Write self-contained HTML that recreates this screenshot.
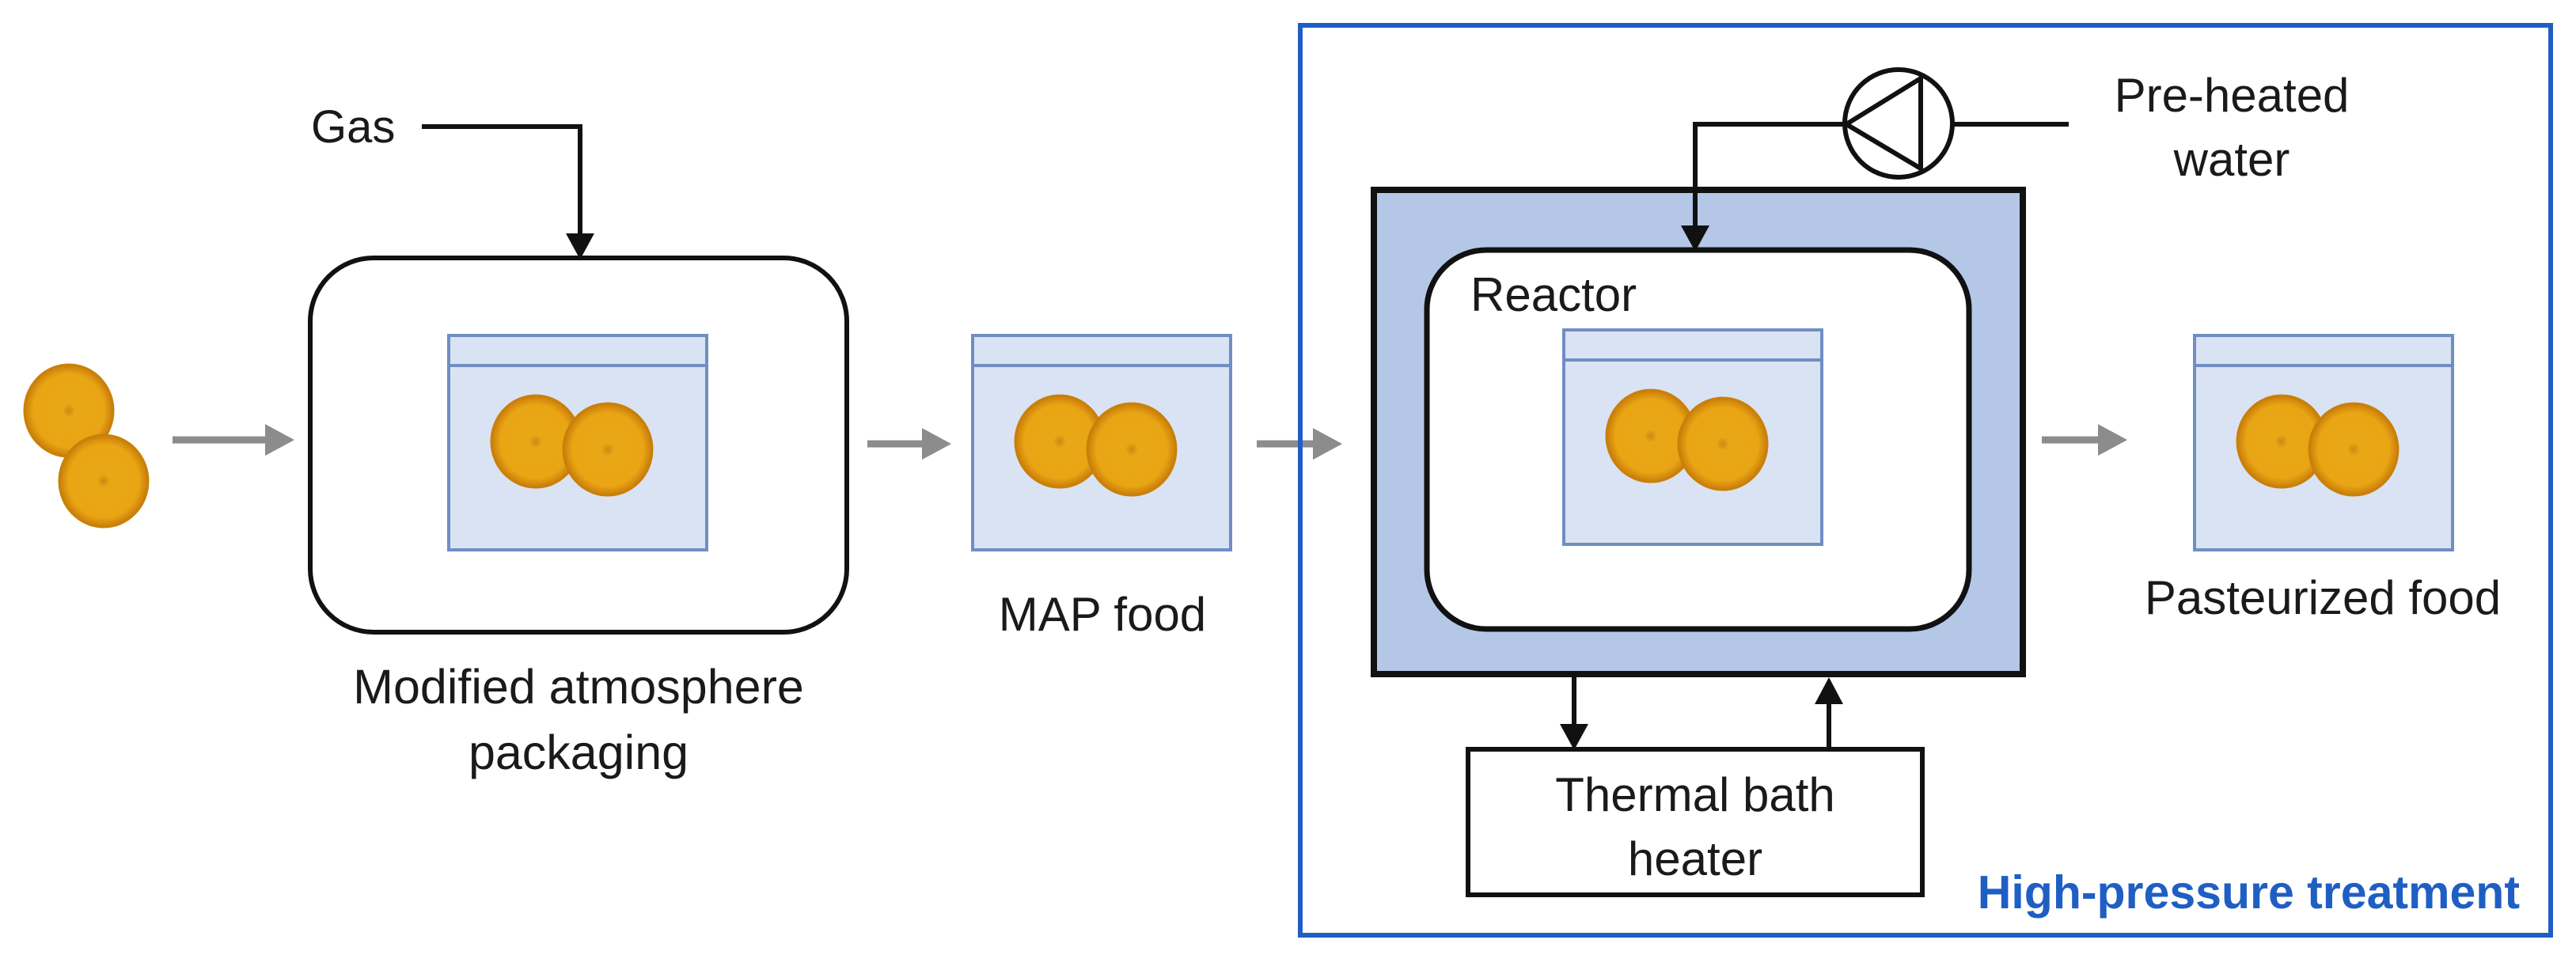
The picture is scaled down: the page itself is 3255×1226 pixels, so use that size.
<!DOCTYPE html>
<html><head><meta charset="utf-8"><style>
html,body{margin:0;padding:0;background:#fff;}
svg{display:block;}
text{font-family:"Liberation Sans",sans-serif;fill:#1a1a1a;}
</style></head><body>
<svg width="3255" height="1226" viewBox="0 0 3255 1226" xmlns="http://www.w3.org/2000/svg">
<defs>
<radialGradient id="og" cx="50%" cy="50%" r="50%">
<stop offset="0" stop-color="#c98a10"/>
<stop offset="0.15" stop-color="#e8a816"/>
<stop offset="0.8" stop-color="#e9a514"/>
<stop offset="1" stop-color="#c97d0a"/>
</radialGradient>
<g id="orange"><ellipse cx="0" cy="0" rx="56" ry="58" fill="url(#og)" stroke="#c98009" stroke-width="3"/></g>
<g id="bag">
<rect x="0" y="0" width="326" height="271" fill="#dae3f3" stroke="#6f8ec4" stroke-width="4"/>
<line x1="0" y1="38" x2="326" y2="38" stroke="#6f8ec4" stroke-width="4"/>
<use href="#orange" x="110" y="134"/>
<use href="#orange" x="201" y="144"/>
</g>
</defs>

<use href="#orange" x="87" y="519"/>
<use href="#orange" x="131" y="608"/>

<g stroke="#8c8c8c" stroke-width="9" fill="#8c8c8c">
<line x1="218" y1="556" x2="340" y2="556"/><path d="M335,536 L372,556 L335,576 z" stroke="none"/>
<line x1="1096" y1="561" x2="1170" y2="561"/><path d="M1165,541 L1202,561 L1165,581 z" stroke="none"/>
<line x1="1588" y1="561" x2="1664" y2="561"/><path d="M1659,541 L1696,561 L1659,581 z" stroke="none"/>
<line x1="2580" y1="556" x2="2656" y2="556"/><path d="M2651,536 L2688,556 L2651,576 z" stroke="none"/>
</g>

<rect x="392" y="326" width="678" height="473" rx="80" fill="#fff" stroke="#111" stroke-width="6"/>
<text x="393" y="180" font-size="58">Gas</text>
<polyline points="533,160 733,160 733,300" fill="none" stroke="#111" stroke-width="6"/>
<path d="M715,295 L751,295 L733,328 z" fill="#111"/>
<use href="#bag" x="567" y="424"/>
<text x="731" y="889" font-size="61" text-anchor="middle">Modified atmosphere</text>
<text x="731" y="972" font-size="61" text-anchor="middle">packaging</text>

<use href="#bag" x="1229" y="424"/>
<text x="1393" y="797" font-size="60" text-anchor="middle">MAP food</text>

<rect x="1643" y="32" width="1580" height="1150" fill="none" stroke="#1f5fc4" stroke-width="6"/>
<rect x="1736" y="240" width="820" height="612" fill="#b4c7e7" stroke="#111" stroke-width="8"/>
<rect x="1803" y="316" width="685" height="479" rx="75" fill="#fff" stroke="#111" stroke-width="7"/>
<text x="1858" y="393" font-size="60">Reactor</text>
<use href="#bag" x="1976" y="417"/>

<polyline points="2330,157 2142,157 2142,290" fill="none" stroke="#111" stroke-width="6"/>
<path d="M2124,285 L2160,285 L2142,318 z" fill="#111"/>
<line x1="2468" y1="157" x2="2614" y2="157" stroke="#111" stroke-width="6"/>
<circle cx="2399" cy="156" r="68" fill="#fff" stroke="#111" stroke-width="6"/>
<polygon points="2333,157 2427,99 2427,213" fill="none" stroke="#111" stroke-width="6" stroke-linejoin="round"/>
<text x="2820" y="141" font-size="60" text-anchor="middle">Pre-heated</text>
<text x="2820" y="222" font-size="60" text-anchor="middle">water</text>

<use href="#bag" x="2773" y="424"/>
<text x="2935" y="776" font-size="60" text-anchor="middle">Pasteurized food</text>

<rect x="1855" y="947" width="574" height="184" fill="#fff" stroke="#111" stroke-width="6"/>
<text x="2142" y="1025" font-size="60" text-anchor="middle">Thermal bath</text>
<text x="2142" y="1106" font-size="60" text-anchor="middle">heater</text>
<line x1="1989" y1="853" x2="1989" y2="920" stroke="#111" stroke-width="6"/>
<path d="M1971,915 L2007,915 L1989,948 z" fill="#111"/>
<line x1="2311" y1="947" x2="2311" y2="885" stroke="#111" stroke-width="6"/>
<path d="M2293,890 L2329,890 L2311,856 z" fill="#111"/>

<text x="3184" y="1148" font-size="59" font-weight="bold" text-anchor="end" style="fill:#1f5fc4">High-pressure treatment</text>
</svg>
</body></html>
